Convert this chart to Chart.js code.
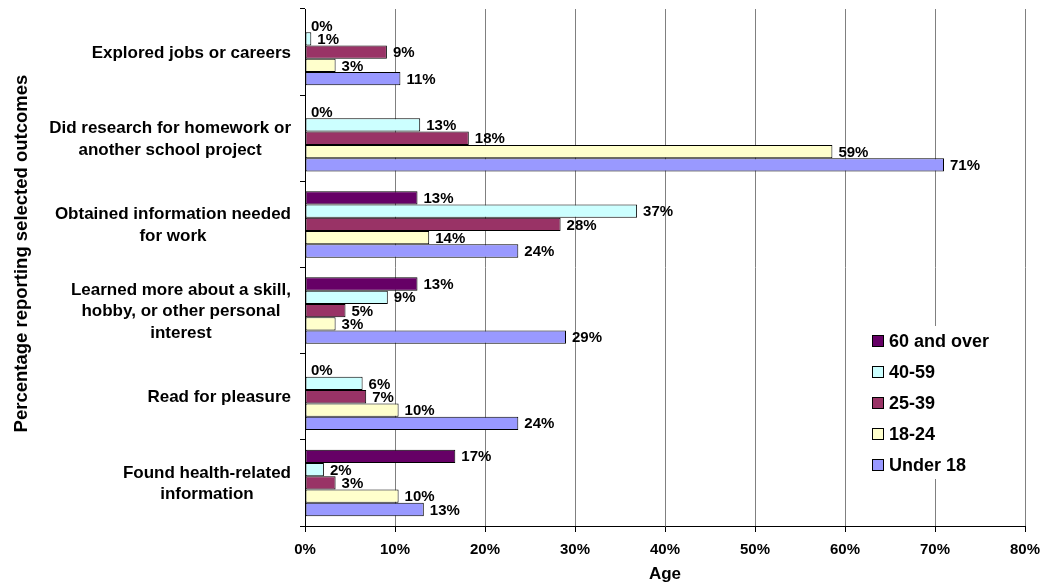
<!DOCTYPE html>
<html>
<head>
<meta charset="utf-8">
<script src="https://cdn.jsdelivr.net/npm/chart.js@4.4.1/dist/chart.umd.min.js"></script>
<style>
  html, body { margin: 0; padding: 0; background: #ffffff; }
  #wrap { width: 1042px; height: 586px; }
</style>
</head>
<body>
<div id="wrap"><canvas id="chart" width="1042" height="586"></canvas></div>
<script>
// Outcome categories (top to bottom), line breaks as printed
const categories = [
  ['Explored jobs or careers'],
  ['Did research for homework or', 'another school project'],
  ['Obtained information needed', 'for work'],
  ['Learned more about a skill,', 'hobby, or other personal', 'interest'],
  ['Read for pleasure'],
  ['Found health-related', 'information']
];

// Age groups
const seriesNames = ['60 and over', '40-59', '25-39', '18-24', 'Under 18'];

// Percentage of each age group reporting the outcome
const age60Plus  = [0,    0,    12.5, 12.5, 0,    16.7];
const age40to59  = [0.7,  12.8, 36.9, 9.2,  6.4,  2.1];
const age25to39  = [9.1,  18.2, 28.4, 4.5,  6.8,  3.4];
const age18to24  = [3.4,  58.6, 13.8, 3.4,  10.4, 10.4];
const ageUnder18 = [10.6, 71.0, 23.7, 29.0, 23.7, 13.2];

const seriesColors = ['#660066', '#CCFFFF', '#993366', '#FFFFCC', '#9999FF'];

// Horizontal axis
const xMin = 0, xMax = 80, xStep = 10;

const axisTitleX = 'Age';
const axisTitleY = 'Percentage reporting selected outcomes';

const FONT = '"Liberation Sans", Arial, Helvetica, sans-serif';

const seriesValues = [age60Plus, age40to59, age25to39, age18to24, ageUnder18];

// Percent labels at the end of every bar
const valueLabels = {
  id: 'valueLabels',
  afterDatasetsDraw(chart) {
    const ctx = chart.ctx;
    ctx.save();
    ctx.font = 'bold 15px ' + FONT;
    ctx.fillStyle = '#000';
    ctx.textAlign = 'left';
    ctx.textBaseline = 'middle';
    chart.data.datasets.forEach((ds, i) => {
      const meta = chart.getDatasetMeta(i);
      meta.data.forEach((bar, j) => {
        ctx.fillText(Math.round(ds.data[j]) + '%', bar.x + 6, bar.y + 1);
      });
    });
    ctx.restore();
  }
};

// Category names: block right-aligned to the axis, lines centred in the block
const categoryLabels = {
  id: 'categoryLabels',
  afterDraw(chart) {
    const ctx = chart.ctx;
    const yScale = chart.scales.y;
    const right = chart.chartArea.left - 14;
    const lineH = 21.5;
    ctx.save();
    ctx.font = 'bold 17px ' + FONT;
    ctx.fillStyle = '#000';
    ctx.textAlign = 'center';
    ctx.textBaseline = 'middle';
    chart.data.labels.forEach((lines, i) => {
      const cy = yScale.getPixelForTick(i);
      const maxW = Math.max(...lines.map(l => ctx.measureText(l).width));
      const cx = right - maxW / 2;
      const y0 = cy - (lines.length - 1) * lineH / 2;
      lines.forEach((l, k) => ctx.fillText(l, cx, y0 + k * lineH + 1));
    });

    // vertical axis title
    ctx.font = 'bold 18.5px ' + FONT;
    ctx.textBaseline = 'alphabetic';
    ctx.translate(27, 253.5);
    ctx.rotate(-Math.PI / 2);
    ctx.fillText(axisTitleY, 0, 0);
    ctx.restore();
  }
};

// Legend inside the plot, lower right
const boxLegend = {
  id: 'boxLegend',
  afterDraw(chart) {
    const ctx = chart.ctx;
    const area = chart.chartArea;
    const x0 = area.right - 159;
    const y0 = 326;
    ctx.save();
    ctx.fillStyle = '#ffffff';
    ctx.fillRect(x0, y0, 150, 153);
    ctx.font = 'bold 18px ' + FONT;
    ctx.textAlign = 'left';
    ctx.textBaseline = 'middle';
    chart.data.datasets.forEach((ds, i) => {
      const cy = y0 + 15 + i * 31;
      ctx.fillStyle = ds.backgroundColor;
      ctx.fillRect(x0 + 6.5, cy - 5.5, 11, 11);
      ctx.strokeStyle = '#000';
      ctx.lineWidth = 1;
      ctx.strokeRect(x0 + 6.5, cy - 5.5, 11, 11);
      ctx.fillStyle = '#000';
      ctx.fillText(ds.label, x0 + 23, cy + 1);
    });
    ctx.restore();
  }
};

new Chart(document.getElementById('chart'), {
  type: 'bar',
  data: {
    labels: categories,
    datasets: seriesNames.map((name, i) => ({
      label: name,
      data: seriesValues[i],
      backgroundColor: seriesColors[i],
      borderColor: '#000000',
      borderWidth: 1,
      borderSkipped: false,
      categoryPercentage: 0.772,
      barPercentage: 1
    }))
  },
  options: {
    indexAxis: 'y',
    responsive: false,
    animation: false,
    devicePixelRatio: 1,
    layout: { padding: { top: 9, right: 17, bottom: 0, left: 0 } },
    plugins: {
      legend: { display: false },
      tooltip: { enabled: false }
    },
    scales: {
      x: {
        min: xMin,
        max: xMax,
        ticks: {
          stepSize: xStep,
          callback: v => v + '%',
          color: '#000',
          font: { family: FONT, size: 15, weight: 'bold' },
          padding: 9,
          maxRotation: 0
        },
        grid: {
          color: c => (c.tick && c.tick.value === 0 ? '#000000' : '#808080'),
          tickColor: '#000000',
          tickLength: 6,
          lineWidth: 1
        },
        border: { color: '#000000', width: 1 },
        title: {
          display: true,
          text: axisTitleX,
          color: '#000',
          font: { family: FONT, size: 17, weight: 'bold' },
          padding: { top: 0, bottom: 1 }
        },
        afterFit(scale) {
          scale.height = 60;
          scale.paddingLeft = 0;
          scale.paddingRight = 0;
        }
      },
      y: {
        ticks: { display: false },
        grid: {
          offset: true,
          drawOnChartArea: false,
          tickLength: 5,
          tickColor: '#000000'
        },
        border: { color: '#000000', width: 1 },
        afterFit(scale) {
          scale.width = 305;
          scale.paddingTop = 0;
          scale.paddingBottom = 0;
        }
      }
    }
  },
  plugins: [valueLabels, categoryLabels, boxLegend]
});
</script>
</body>
</html>
